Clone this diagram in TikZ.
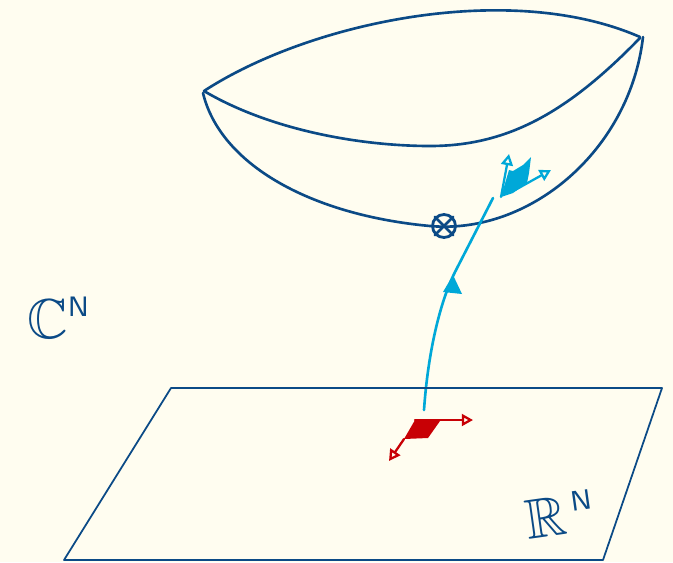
\documentclass[tikz,border=0pt]{standalone}
\usepackage{amsmath,amssymb}
\usepackage{tikz}
\usetikzlibrary{arrows.meta}
\definecolor{paper}{HTML}{FFFDF0}
\definecolor{inkblue}{HTML}{0B4A86}
\definecolor{skyblue}{HTML}{00A8D8}
\definecolor{inkred}{HTML}{C80005}
\tikzset{
  rim/.style={inkblue,line width=0.75pt,line cap=round},
  flagskip/.style={line width=0.65pt,line cap=round,-{Triangle[open,length=3.2pt,width=3.4pt]}},
  spacelabel/.style={inkblue,font=\fontsize{16}{18}\selectfont,inner sep=0pt},
}
\begin{document}
\begin{tikzpicture}
\fill[paper] (0,0) rectangle (6.73,5.62);
\useasboundingbox (0,0) rectangle (6.73,5.62);
% the bowl
\draw[rim] (2.04,4.71) .. controls (3.10,5.40) and (5.10,5.82) .. (6.40,5.25);
\draw[rim] (2.04,4.71) .. controls (2.70,4.32) and (3.60,4.16) .. (4.30,4.16) .. controls (5.10,4.16) and (5.70,4.52) .. (6.40,5.24);
\draw[rim] (2.03,4.69) .. controls (2.20,3.98) and (3.10,3.47) .. (4.30,3.36) .. controls (5.30,3.27) and (6.30,4.12) .. (6.43,5.25);
% marked point
\node[circle,draw=inkblue,line width=0.8pt,minimum size=0.23cm,inner sep=0pt] (mark) at (4.44,3.36) {};
\draw[rim] (mark.north west) -- (mark.south east);
\draw[rim] (mark.north east) -- (mark.south west);
% the path
\coordinate (pathstart) at (4.24,1.52);
\coordinate (pathend) at (4.93,3.64);
\draw[skyblue,line width=0.75pt,line cap=round] (pathstart) .. controls (4.28,2.10) and (4.40,2.60) .. (4.55,2.90) -- (pathend);
\fill[skyblue] (4.43,2.70) -- (4.53,2.87) -- (4.62,2.68) -- cycle;
% flag on the bowl
\coordinate (bluecorner) at (5.01,3.65);
\coordinate (blueup) at (5.09,4.08);
\coordinate (blueside) at (5.51,3.92);
\fill[skyblue] (bluecorner) -- (5.09,3.92) -- (5.13,3.91) -- (5.23,3.97) -- (5.31,4.05) -- (5.29,3.89) -- (5.27,3.79) -- (5.13,3.69) -- cycle;
\draw[skyblue,flagskip] (bluecorner) -- (blueup);
\draw[skyblue,flagskip] (5.15,3.72) -- (blueside);
% the real plane
\draw[inkblue,line width=0.5pt,line join=round] (1.71,1.74) -- (6.62,1.74) -- (6.03,0.02) -- (0.64,0.02) -- cycle;
% flag on the plane
\coordinate (redcorner) at (4.15,1.42);
\coordinate (redside) at (4.73,1.42);
\coordinate (redlow) at (4.04,1.23);
\coordinate (reddown) at (3.89,1.01);
\fill[inkred] (redcorner) -- (4.40,1.41) -- (4.28,1.24) -- (redlow) -- cycle;
\draw[inkred,flagskip] (redcorner) -- (redside);
\draw[inkred,flagskip] (redlow) -- (reddown);
% labels
\node[spacelabel] (cn) at (0.59,2.44) {$\mathbb{C}^{\mathsf{\scriptscriptstyle N}}$};
\node[spacelabel,rotate=8] (rn) at (5.60,0.48) {$\mathbb{R}^{\,\mathsf{\scriptscriptstyle N}}$};
\end{tikzpicture}
\end{document}
